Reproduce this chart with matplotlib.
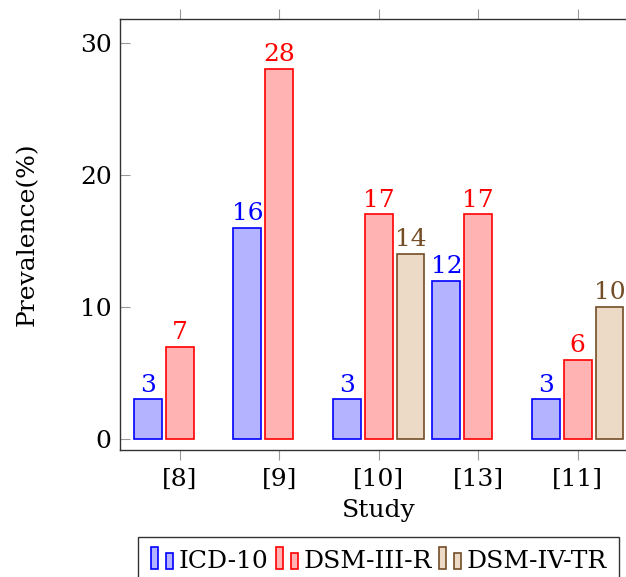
import matplotlib
matplotlib.use('Agg')
import matplotlib.pyplot as plt
from matplotlib.patches import Rectangle
from matplotlib.legend_handler import HandlerBase

plt.rcParams['font.family'] = 'DejaVu Serif'
plt.rcParams['font.size'] = 18

studies = ['[8]', '[9]', '[10]', '[13]', '[11]']
series = ['ICD-10', 'DSM-III-R', 'DSM-IV-TR']
icd10 = [3, 16, 3, 12, 3]
dsm3r = [7, 28, 17, 17, 6]
dsm4tr = [None, None, 14, None, 10]

edge_colors = ['#0000ff', '#ff0000', '#734d26']
fill_colors = ['#b3b3ff', '#ffb3b3', '#ecd9c6']
shifts = [-0.32, 0.0, 0.32]
bar_w = 0.28


# pgfplots-like ybar legend image: two small bars
class TwoBarHandler(HandlerBase):
    def create_artists(self, legend, orig_handle, xd, yd, width, height, fontsize, trans):
        fc = orig_handle.get_facecolor()
        ec = orig_handle.get_edgecolor()
        w = width * 0.32
        r1 = Rectangle((xd, yd - height * 0.1), w, height * 1.25, fc=fc, ec=ec, lw=1.2, transform=trans)
        r2 = Rectangle((xd + width * 0.68, yd - height * 0.1), w, height * 0.95, fc=fc, ec=ec, lw=1.2, transform=trans)
        return [r1, r2]


fig = plt.figure(figsize=(6.26, 5.77), dpi=100)
ax = fig.add_axes([120 / 626, 127 / 577, 517.4 / 626, 431 / 577])

handles = []
for i, vals in enumerate([icd10, dsm3r, dsm4tr]):
    xs = [j + shifts[i] for j, v in enumerate(vals) if v is not None]
    ys = [v for v in vals if v is not None]
    bars = ax.bar(xs, ys, width=bar_w, color=fill_colors[i], edgecolor=edge_colors[i], linewidth=1.2)
    handles.append(bars[0])
    for x, y in zip(xs, ys):
        ax.annotate(str(y), (x, y), xytext=(0, 2), textcoords='offset points',
                    ha='center', va='bottom', color=edge_colors[i])

ax.set_xlim(-0.6, 4.6)
ax.set_ylim(-0.83, 31.8)
ax.set_xticks(range(len(studies)))
ax.set_xticklabels(studies)
ax.set_yticks([0, 10, 20, 30])

ax.tick_params(axis='x', direction='out', top=True, bottom=True, length=7, color='#999999', pad=6)
ax.tick_params(axis='y', direction='in', left=True, right=True, length=7, color='#999999', pad=6)
for s in ax.spines.values():
    s.set_color('#333333')
    s.set_linewidth(1.0)

ax.set_xlabel('Study', va='center')
ax.xaxis.set_label_coords(0.5, -0.1415)
ax.set_ylabel('Prevalence(%)', va='center')
ax.yaxis.set_label_coords(-0.18, 0.5)

ax.legend(handles, series, handler_map={h: TwoBarHandler() for h in handles},
          loc='upper center', bbox_to_anchor=(0.5, -0.202), borderaxespad=0,
          ncol=3, frameon=True, fancybox=False, edgecolor='#333333', framealpha=1,
          handlelength=0.9, handletextpad=0.2, columnspacing=0.3, borderpad=0.5)

plt.savefig('out.png', dpi=100)
